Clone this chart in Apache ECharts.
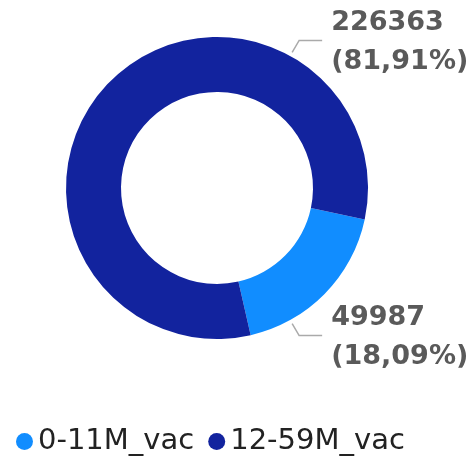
<!DOCTYPE html>
<html>
<head>
<meta charset="utf-8">
<script src="https://cdn.jsdelivr.net/npm/echarts@6/dist/echarts.min.js"></script>
<style>
  html, body { margin: 0; padding: 0; background: #fff; }
  #chart { width: 469px; height: 457px; }
</style>
</head>
<body>
<div id="chart"></div>
<script>
// 数据
var categories = ['0-11M_vac', '12-59M_vac'];
var values = [49987, 226363];
var colors = ['#118DFF', '#12239E'];

var cx = 217, cy = 188, rIn = 96, rOut = 151;
// 标签引导线的起始角度（度）
var labelAngles = [-61, 61];

var total = values.reduce(function (a, b) { return a + b; }, 0);

var myChart = echarts.init(document.getElementById('chart'));
var option = {
  animation: false,
  color: colors,
  legend: {
    data: categories,
    left: 11,
    top: 422,
    icon: 'circle',
    itemWidth: 17,
    itemHeight: 17,
    itemGap: 14,
    textStyle: {
      fontFamily: 'DejaVu Sans',
      fontSize: 29,
      color: '#222'
    }
  },
  series: [
    {
      type: 'pie',
      center: [cx, cy],
      radius: [rIn, rOut],
      startAngle: -12,
      clockwise: true,
      data: categories.map(function (c, i) {
        return { name: c, value: values[i] };
      }),
      label: {
        show: true,
        overflow: 'none',
        width: 200,
        fontFamily: 'DejaVu Sans',
        fontWeight: 'bold',
        fontSize: 27,
        lineHeight: 39,
        color: '#5a5a5a',
        formatter: function (p) {
          var pct = (p.value / total * 100).toFixed(2).replace('.', ',');
          return p.value + '\n(' + pct + '%)';
        }
      },
      labelLine: {
        show: true,
        lineStyle: { color: '#aaaaaa', width: 1.5 }
      },
      labelLayout: function (params) {
        var a = labelAngles[params.dataIndex] * Math.PI / 180;
        var x0 = cx + (rOut + 4) * Math.cos(a);
        var y0 = cy - (rOut + 4) * Math.sin(a);
        var x1 = x0 + 7;
        var y1 = y0 + (a > 0 ? -12 : 12);
        var x2 = x1 + 23;
        return {
          x: x2 + 9,
          y: y1 + 2,
          align: 'left',
          verticalAlign: 'middle',
          labelLinePoints: [[x0, y0], [x1, y1], [x2, y1]]
        };
      },
      emphasis: { disabled: true }
    }
  ]
};
myChart.setOption(option);
window.addEventListener('resize', function () {
  myChart.resize();
});
</script>
</body>
</html>
